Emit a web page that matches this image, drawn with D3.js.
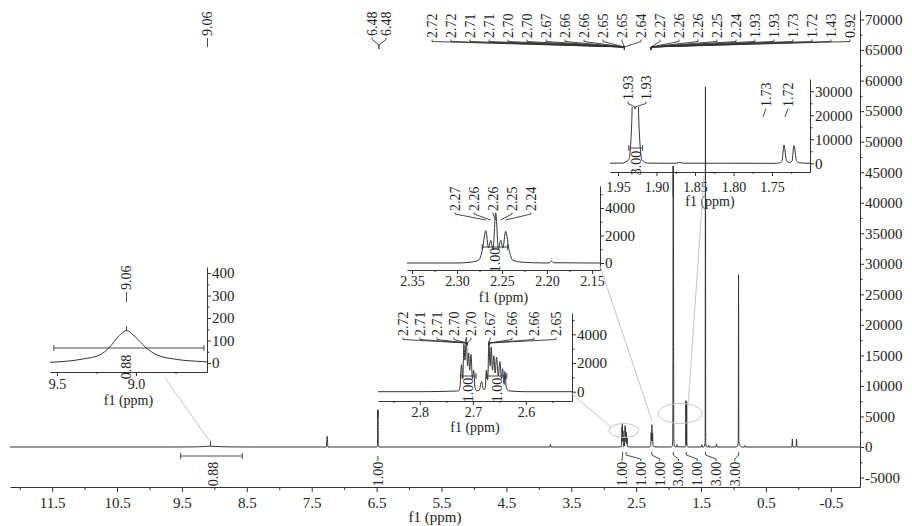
<!DOCTYPE html>
<html>
<head>
<meta charset="utf-8">
<script src="https://cdn.jsdelivr.net/npm/d3@7"></script>
<style>
body { margin: 0; background: #fff; }
text { font-family: "Liberation Serif", "Times New Roman", serif; fill: #222; }
</style>
</head>
<body>
<script>
// 1H spectrum: [ppm, intensity]
const spectrum = [
  [12.15, 0], [9.70, 0],
  [9.544, 3], [9.334, 18], [9.228, 36], [9.165, 72], [9.112, 117], [9.059, 144], [9.006, 117],
  [8.943, 72], [8.869, 36], [8.742, 16], [8.576, 6], [8.40, 0],
  [7.275, 0], [7.262, 1750], [7.25, 0],
  [6.495, 0], [6.486, 300], [6.483, 6100], [6.480, 4800], [6.477, 6000], [6.474, 300], [6.465, 0],
  [3.83, 0], [3.822, 450], [3.815, 0],
  [2.80, 0], [2.7277, 50], [2.7245, 300], [2.7215, 1900], [2.719, 900], [2.717, 3300], [2.715, 2200],
  [2.7125, 3800], [2.710, 1800], [2.708, 2700], [2.706, 1500], [2.7035, 2600], [2.701, 900],
  [2.6985, 1500], [2.696, 300], [2.693, 60], [2.688, 100], [2.6836, 700], [2.680, 150],
  [2.677, 200], [2.6745, 1500], [2.672, 800], [2.6698, 3500], [2.6675, 1800], [2.6655, 3100],
  [2.663, 1500], [2.6604, 2500], [2.658, 1300], [2.6553, 2400], [2.652, 1100], [2.6491, 2100],
  [2.646, 900], [2.644, 1600], [2.641, 500], [2.6396, 1400], [2.637, 300], [2.633, 60], [2.60, 0],
  [2.30, 0], [2.285, 60], [2.276, 200], [2.272, 900], [2.268, 2350], [2.265, 1100], [2.2625, 1650],
  [2.260, 1000], [2.257, 3650], [2.254, 1000], [2.2515, 1650], [2.249, 1100], [2.246, 2300],
  [2.242, 900], [2.238, 200], [2.228, 60], [2.20, 0], [2.197, 20], [2.195, 150], [2.193, 20], [2.15, 0],
  [1.97, 0], [1.945, 80], [1.936, 1500], [1.9325, 14000], [1.9295, 46000], [1.9278, 41000],
  [1.926, 46000], [1.9225, 14000], [1.919, 1500], [1.912, 80], [1.89, 0], [1.874, 40], [1.870, 400],
  [1.866, 40], [1.745, 0], [1.740, 200], [1.737, 900], [1.7344, 7600], [1.731, 900], [1.727, 300],
  [1.724, 900], [1.7214, 7400], [1.718, 900], [1.714, 200], [1.70, 0],
  [1.495, 0], [1.488, 400], [1.482, 0],
  [1.46, 0], [1.45, 80], [1.436, 900], [1.432, 59000], [1.428, 900], [1.42, 100], [1.41, 0],
  [1.385, 0], [1.38, 300], [1.375, 0],
  [1.27, 0], [1.262, 500], [1.255, 0],
  [0.96, 0], [0.94, 150], [0.926, 900], [0.922, 28200], [0.918, 900], [0.905, 300], [0.89, 100], [0.87, 0],
  [0.83, 0], [0.822, 250], [0.815, 0],
  [0.10, 0], [0.092, 1300], [0.085, 0], [0.035, 0], [0.028, 1300], [0.02, 0],
  [-0.95, 0]
];

// peak labels
const mainPeakGroupA = ["2.72", "2.72", "2.71", "2.71", "2.70", "2.70", "2.67", "2.66", "2.66", "2.65", "2.65", "2.64"];
const mainPeakGroupB = ["2.27", "2.26", "2.26", "2.25", "2.24", "1.93", "1.93", "1.73", "1.72", "1.43", "0.92"];
const pairLabels648 = ["6.48", "6.48"];
const inset2Labels = ["2.27", "2.26", "2.26", "2.25", "2.24"];
const inset2PeakPpm = [2.268, 2.2625, 2.257, 2.2515, 2.246];
const inset3LabelsA = ["2.72", "2.71", "2.71", "2.70", "2.70"];
const inset3LabelsB = ["2.67", "2.66", "2.66", "2.65"];
const inset4LabelsA = ["1.93", "1.93"];
const inset4LabelsB = ["1.73", "1.72"];

// integrals
const integralRanges = [[9.52, 8.57], [6.51, 6.45], [2.723, 2.694], [2.674, 2.636], [2.272, 2.244],
                        [1.936, 1.918], [1.742, 1.713], [1.45, 1.41], [0.94, 0.90]];
const integralValues = ["0.88", "1.00", "1.00", "1.00", "1.00", "3.00", "1.00", "3.00", "3.00"];

// tick values
const mainXTicks = [11.5, 10.5, 9.5, 8.5, 7.5, 6.5, 5.5, 4.5, 3.5, 2.5, 1.5, 0.5, -0.5];
const mainXMinor = [12, 11, 10, 9, 8, 7, 6, 5, 4, 3, 2, 1, 0];
const mainYTicks = [70000, 65000, 60000, 55000, 50000, 45000, 40000, 35000, 30000, 25000, 20000, 15000, 10000, 5000, 0, -5000];
const mainYMinor = [67500, 62500, 57500, 52500, 47500, 42500, 37500, 32500, 27500, 22500, 17500, 12500, 7500, 2500, -2500];
const in1XTicks = [9.5, 9.0], in1XMinor = [9.25, 8.75];
const in1YTicks = [0, 100, 200, 300, 400], in1YMinor = [50, 150, 250, 350];
const in2XTicks = [2.35, 2.30, 2.25, 2.20, 2.15], in2XMinor = [2.325, 2.275, 2.225, 2.175];
const in2YTicks = [0, 2000, 4000], in2YMinor = [1000, 3000, 5000];
const in3XTicks = [2.8, 2.7, 2.6], in3XMinor = [2.85, 2.75, 2.65, 2.55];
const in3YTicks = [0, 2000, 4000], in3YMinor = [1000, 3000, 5000];
const in4XTicks = [1.95, 1.90, 1.85, 1.80, 1.75], in4XMinor = [1.925, 1.875, 1.825, 1.775, 1.725];
const in4YTicks = [0, 10000, 20000, 30000], in4YMinor = [5000, 15000, 25000];

const FONT = '"Liberation Serif", "Times New Roman", serif';
const svg = d3.select("body").append("svg").attr("width", 912).attr("height", 526);
const gray = "#c4c4c4";

function panel(p) {
  const x = d3.scaleLinear().domain(p.xd).range([p.x0, p.x1]);
  const y = d3.scaleLinear().domain(p.yd).range([p.yb, p.yt]);
  const g = svg.append("g");
  const top = p.clipTop || p.yt;
  svg.append("clipPath").attr("id", "clip-" + p.id).append("rect")
    .attr("x", p.x0).attr("y", top).attr("width", p.x1 - p.x0).attr("height", p.yb - top);

  g.append("path").datum(spectrum)
    .attr("clip-path", `url(#clip-${p.id})`)
    .attr("fill", "none").attr("stroke", "#333").attr("stroke-width", 1)
    .attr("d", d3.line().x(d => x(d[0])).y(d => y(d[1])).curve(d3.curveMonotoneX));

  const gx = g.append("g").attr("transform", `translate(0,${p.yb})`)
    .call(d3.axisBottom(x).tickValues(p.xt).tickFormat(p.xf).tickSize(p.ts).tickSizeOuter(0).tickPadding(p.tp));
  gx.attr("font-family", FONT).attr("font-size", p.fs).style("color", "#333");
  g.append("g").attr("transform", `translate(0,${p.yb})`)
    .call(d3.axisBottom(x).tickValues(p.xm).tickFormat("").tickSize(p.ts - 2).tickSizeOuter(0))
    .style("color", "#333").call(s => s.select(".domain").remove());

  const gy = g.append("g").attr("transform", `translate(${p.x1},0)`)
    .call(d3.axisRight(y).tickValues(p.yt2).tickFormat(d => String(d)).tickSize(4).tickSizeOuter(0).tickPadding(1));
  gy.attr("font-family", FONT).attr("font-size", p.fy).style("color", "#333");
  g.append("g").attr("transform", `translate(${p.x1},0)`)
    .call(d3.axisRight(y).tickValues(p.ym).tickFormat("").tickSize(2.5).tickSizeOuter(0))
    .style("color", "#333").call(s => s.select(".domain").remove());

  g.append("text").attr("x", (p.x0 + p.x1) / 2).attr("y", p.f1y)
    .attr("text-anchor", "middle").attr("font-size", p.fs).text("f1 (ppm)");
  return { x, y, g };
}

function vtext(g, x, yBottom, t, size) {
  g.append("text").attr("transform", `translate(${x},${yBottom}) rotate(-90)`)
    .attr("dy", "0.35em").attr("font-size", size).text(t);
}
function vtextMid(g, x, yc, t, size) {
  g.append("text").attr("transform", `translate(${x},${yc}) rotate(-90)`)
    .attr("text-anchor", "middle").attr("dy", "0.35em").attr("font-size", size).text(t);
}
function seg(g, pts, color, w) {
  g.append("path").attr("d", d3.line()(pts)).attr("fill", "none")
    .attr("stroke", color || "#333").attr("stroke-width", w || 0.9);
}
function fan(g, labels, xs, yBottom, size, cx, cy, tail) {
  labels.forEach((t, i) => {
    vtext(g, xs[i], yBottom, t, size);
    seg(g, [[xs[i], yBottom + 1.5], [xs[i], yBottom + 3.5], [cx, cy], [cx, cy + tail]]);
  });
}
function intBar(g, x, r, yb) {
  seg(g, [[x(r[0]), yb], [x(r[1]), yb]]);
  seg(g, [[x(r[0]), yb - 3], [x(r[0]), yb + 3]]);
  seg(g, [[x(r[1]), yb - 3], [x(r[1]), yb + 3]]);
}

// ---------- main spectrum ----------
const M = panel({ id: "main", x0: 10, x1: 860, xd: [12.15, -0.95], yb: 487, yt: 10, yd: [-6550, 71560],
  xt: mainXTicks, xm: mainXMinor, xf: d => d.toFixed(1), yt2: mainYTicks, ym: mainYMinor,
  fs: 15, fy: 15, ts: 5, tp: 5, f1y: 522 });

// ---------- insets ----------
const I1 = panel({ id: "in1", x0: 50, x1: 207, xd: [9.544, 8.551], yb: 372, yt: 267, yd: [-40, 427],
  xt: in1XTicks, xm: in1XMinor, xf: d => d.toFixed(1), yt2: in1YTicks, ym: in1YMinor,
  fs: 14, fy: 15, ts: 4, tp: 3, f1y: 405 });
const I2 = panel({ id: "in2", x0: 407, x1: 600, xd: [2.3556, 2.1411], yb: 270, yt: 186, yd: [-509, 5600],
  xt: in2XTicks, xm: in2XMinor, xf: d => d.toFixed(2), yt2: in2YTicks, ym: in2YMinor,
  fs: 14, fy: 15, ts: 4, tp: 2, f1y: 302 });
const I3 = panel({ id: "in3", x0: 378, x1: 572, xd: [2.879, 2.513], yb: 401, yt: 313, yd: [-648, 5484],
  xt: in3XTicks, xm: in3XMinor, xf: d => d.toFixed(1), yt2: in3YTicks, ym: in3YMinor,
  fs: 14, fy: 15, ts: 4, tp: 2, f1y: 432 });
const I4 = panel({ id: "in4", x0: 610, x1: 810, xd: [1.9604, 1.7006], yb: 172, yt: 79, yd: [-3625, 35125],
  clipTop: 107, xt: in4XTicks, xm: in4XMinor, xf: d => d.toFixed(2), yt2: in4YTicks, ym: in4YMinor,
  fs: 14, fy: 15, ts: 4, tp: 6, f1y: 206 });

const ann = svg.append("g");

// ---------- zoom guides ----------
ann.append("ellipse").attr("cx", M.x(2.69)).attr("cy", M.y(2700)).attr("rx", 15).attr("ry", 7)
  .attr("fill", "none").attr("stroke", gray);
ann.append("ellipse").attr("cx", M.x(1.82)).attr("cy", M.y(5500)).attr("rx", 22).attr("ry", 10)
  .attr("fill", "none").attr("stroke", gray);
seg(ann, [[165, 378], [M.x(9.06) - 1, 441]], gray, 1);
seg(ann, [[600, 266], [M.x(2.26), 420]], gray, 1);
seg(ann, [[572, 394], [M.x(2.69) - 13, 427]], gray, 1);
seg(ann, [[704, 176], [M.x(1.82) + 8, 403]], gray, 1);

// ---------- peak labels, main ----------
const px906 = M.x(9.06) - 3;
vtext(ann, px906, 36, "9.06", 14);
seg(ann, [[px906, 38], [px906, 47]]);
seg(ann, [[M.x(9.06), 441], [M.x(9.06), 446]]);
fan(ann, pairLabels648, [372, 386], 36, 14, M.x(6.48) + 1, 45, 4);
fan(ann, mainPeakGroupA, mainPeakGroupA.map((d, i) => 432 + 19 * i), 38, 14, M.x(2.68), 47, 3);
fan(ann, mainPeakGroupB, mainPeakGroupB.map((d, i) => 660 + 19 * i), 38, 14, M.x(2.27), 47, 3);

// ---------- peak labels, insets ----------
const px1 = I1.x(9.06);
vtext(ann, px1, 290, "9.06", 14);
seg(ann, [[px1, 292], [px1, 302]]);
seg(ann, [[px1, 326], [px1, 331]]);
inset2Labels.forEach((t, i) => {
  const lx = 455 + 19 * i;
  vtext(ann, lx, 211, t, 14);
  seg(ann, [[lx, 212.5], [lx, 214], [I2.x(inset2PeakPpm[i]), 220]]);
});
fan(ann, inset3LabelsA, inset3LabelsA.map((d, i) => 403 + 17 * i), 336, 14, 467, 343, 2);
fan(ann, inset3LabelsB, inset3LabelsB.map((d, i) => 490 + 22 * i), 336, 14, 489, 343, 2);
fan(ann, inset4LabelsA, [628, 646], 100, 14, I4.x(1.928), 107, 2);
inset4LabelsB.forEach((t, i) => {
  const lx = [766, 788][i];
  vtext(ann, lx, 107, t, 14);
  seg(ann, [[lx, 108.5], [lx - 3, 117]]);
});

// ---------- integrals ----------
intBar(ann, M.x, integralRanges[0], 456);
vtextMid(ann, M.x(9.06) + 3, 474, integralValues[0], 14);
const p648 = M.x(6.48);
seg(ann, [[p648, 456], [p648, 461]]);
vtextMid(ann, p648, 474, integralValues[1], 14);
for (let k = 2; k < integralValues.length; k++) {
  const r = integralRanges[k];
  const px = M.x((r[0] + r[1]) / 2);
  const lx = 622 + 18.8 * (k - 2);
  seg(ann, [[px, 452], [px, 455], [lx, 459], [lx, 461]]);
  vtextMid(ann, lx, 474, integralValues[k], 14);
}
intBar(ann, I1.x, integralRanges[0], 348);
vtextMid(ann, I1.x(9.06), 367, integralValues[0], 14);
intBar(ann, I2.x, integralRanges[4], 247);
vtextMid(ann, I2.x((integralRanges[4][0] + integralRanges[4][1]) / 2), 260, integralValues[4], 14);
[2, 3].forEach(k => {
  intBar(ann, I3.x, integralRanges[k], 376);
  vtextMid(ann, I3.x((integralRanges[k][0] + integralRanges[k][1]) / 2), 390, integralValues[k], 14);
});
intBar(ann, I4.x, integralRanges[5], 148);
vtextMid(ann, I4.x((integralRanges[5][0] + integralRanges[5][1]) / 2), 163, integralValues[5], 14);
</script>
</body>
</html>
